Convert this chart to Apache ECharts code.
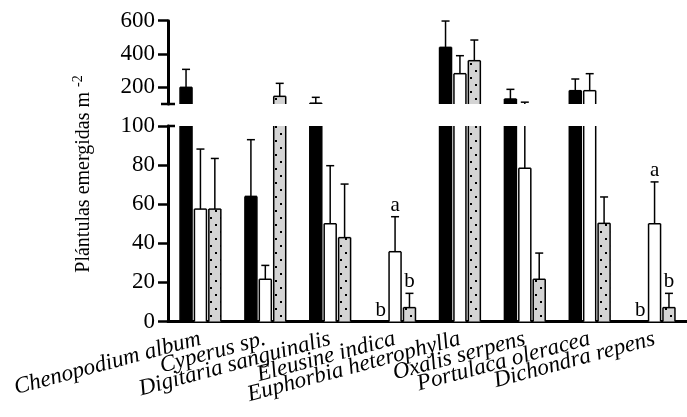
<!DOCTYPE html>
<html>
<head>
<meta charset="utf-8">
<script src="https://cdn.jsdelivr.net/npm/echarts@6/dist/echarts.min.js"></script>
<style>
html,body{margin:0;padding:0;background:#fff}
#chart{width:687px;height:417px}
</style>
</head>
<body>
<div id="chart"></div>
<script>
// species on the x axis
const species = ['Chenopodium album', 'Cyperus sp.', 'Digitaria sanguinalis', 'Eleusine indica',
  'Euphorbia heterophylla', 'Oxalis serpens', 'Portulaca oleracea', 'Dichondra repens'];
// means and upper error (SD) per treatment
const meanBlack = [200, 64, 105, 0, 440, 130, 180, 0];
const errBlack  = [108, 29, 35, 0, 158, 58, 70, 0];
const meanWhite = [57.5, 21.6, 50, 35.7, 282, 78.4, 180, 50];
const errWhite  = [30.7, 7.1, 29.7, 17.9, 108, 32.6, 102, 21.4];
const meanDot   = [57.5, 146, 42.9, 7.1, 360, 21.6, 50.2, 7.1];
const errDot    = [25.9, 78, 27.4, 7.3, 124, 13.4, 13.5, 7.3];
// letters
const sigBlack = ['', '', '', 'b', '', '', '', 'b'];
const sigWhite = ['', '', '', 'a', '', '', '', 'a'];
const sigDot   = ['', '', '', 'b', '', '', '', 'b'];
// axis ticks
const lowTicks = [0, 20, 40, 60, 80, 100];
const highTicks = [200, 400, 600];

const serif = 'Liberation Serif';
const AX_LEFT = 168;
const BAR_W = 12;

let chart = echarts.init(document.getElementById('chart'));

const groups = [
  {mean: meanBlack, err: errBlack, sig: sigBlack, off: -14.4,
    style: {color: '#000', borderWidth: 0, decal: {color: 'rgba(0,0,0,0)'}}},
  {mean: meanWhite, err: errWhite, sig: sigWhite, off: 0,
    style: {color: '#fff', borderWidth: 0, decal: {color: 'rgba(0,0,0,0)'}}},
  {mean: meanDot, err: errDot, sig: sigDot, off: 14.4,
    style: {color: '#d4d4d4', borderWidth: 0,
      decal: {symbol: 'rect', symbolSize: 1, color: '#000', rotation: 0,
        dashArrayX: [[1.5, 7.5], [0, 4.5, 1.5, 3]], dashArrayY: [1.5, 4.5]}}}
];

// outline (open where the axis is broken), error bar and letters
function errRenderer(g) {
  return function (params, api) {
    const i = api.value(0), v = api.value(1), e = api.value(2);
    const cs = params.coordSys;
    const top = cs.y, bot = cs.y + cs.height;
    const pb = api.coord([i, 0]);
    const p0 = api.coord([i, v]);
    const y1 = api.coord([i, v + e])[1];
    const x = p0[0] + g.off;
    const ln = {stroke: '#000', lineWidth: 1.5};
    const kids = [];
    if (v > 0) {
      const a = Math.min(pb[1], bot), b = Math.max(p0[1], top);
      if (a > b) {
        kids.push({type: 'line', shape: {x1: x - BAR_W / 2, y1: a, x2: x - BAR_W / 2, y2: b}, style: ln});
        kids.push({type: 'line', shape: {x1: x + BAR_W / 2, y1: a, x2: x + BAR_W / 2, y2: b}, style: ln});
        if (p0[1] >= top) {
          kids.push({type: 'line', shape: {x1: x - BAR_W / 2, y1: p0[1], x2: x + BAR_W / 2, y2: p0[1]}, style: ln});
        }
      }
    }
    if (e > 0) {
      const a = Math.min(p0[1], bot), b = Math.max(y1, top);
      if (a > b) {
        kids.push({type: 'line', shape: {x1: x, y1: a, x2: x, y2: b}, style: ln});
      }
      if (y1 >= top && y1 <= bot) {
        kids.push({type: 'line', shape: {x1: x - 4, y1: y1, x2: x + 4, y2: y1}, style: ln});
      }
    }
    const s = g.sig[params.dataIndex];
    if (s && y1 >= top && y1 <= bot + 1) {
      kids.push({type: 'text', x: x, y: y1 - 1,
        style: {text: s, fill: '#000', font: '21px ' + serif, align: 'center', verticalAlign: 'bottom'}});
    }
    return {type: 'group', children: kids};
  };
}

let series = [];
[0, 1].forEach(function (gi) {
  groups.forEach(function (g) {
    series.push({
      type: 'bar', xAxisIndex: gi, yAxisIndex: gi,
      barWidth: BAR_W, barGap: '20%',
      itemStyle: g.style,
      data: g.mean,
      silent: true
    });
  });
  groups.forEach(function (g) {
    series.push({
      type: 'custom', xAxisIndex: gi, yAxisIndex: gi,
      renderItem: errRenderer(g),
      data: g.mean.map(function (v, i) { return [i, v, g.err[i]]; }),
      z: 5, silent: true
    });
  });
});

const yLabel = {color: '#000', fontFamily: serif, fontSize: 23, margin: 13};
const yLine = {show: true, lineStyle: {color: '#000', width: 3}};
const yTick = {show: true, length: 10, lineStyle: {color: '#000', width: 2.5}};

let option = {
  animation: false,
  aria: {enabled: true, decal: {show: true}},
  grid: [
    {left: AX_LEFT, right: 0, top: 126, height: 195.5},
    {left: AX_LEFT, right: 0, top: 20.7, height: 83.3}
  ],
  xAxis: [
    {type: 'category', gridIndex: 0, data: species,
      axisLine: {lineStyle: {color: '#000', width: 3}},
      axisTick: {alignWithLabel: true, length: 8, lineStyle: {color: '#000', width: 2.5}},
      axisLabel: {interval: 0, rotate: 15, color: '#000', fontFamily: serif, fontStyle: 'italic',
        fontSize: 23, margin: 17}},
    {type: 'category', gridIndex: 1, data: species, show: false}
  ],
  yAxis: [
    {type: 'value', gridIndex: 0, min: 0, max: 100, interval: 20,
      axisLine: yLine, axisTick: yTick, axisLabel: yLabel, splitLine: {show: false}},
    {type: 'value', gridIndex: 1, min: 100, max: 600,
      axisLine: yLine,
      axisTick: Object.assign({customValues: highTicks}, yTick),
      axisLabel: Object.assign({customValues: highTicks}, yLabel),
      splitLine: {show: false}}
  ],
  series: series
};
chart.setOption(option);

// axis break caps and y title
const yLowTop = chart.convertToPixel({yAxisIndex: 0}, lowTicks[lowTicks.length - 1]);
const yHighBot = chart.convertToPixel({yAxisIndex: 1}, 100);
chart.setOption({
  graphic: [
    {type: 'line', shape: {x1: AX_LEFT - 1, y1: yLowTop, x2: AX_LEFT + 7, y2: yLowTop},
      style: {stroke: '#000', lineWidth: 2.5}},
    {type: 'line', shape: {x1: AX_LEFT - 7, y1: yHighBot, x2: AX_LEFT + 7, y2: yHighBot},
      style: {stroke: '#000', lineWidth: 2.5}},
    {type: 'text', x: 84, y: 174, rotation: Math.PI / 2,
      style: {text: 'Plántulas emergidas m {sup|-2}', fill: '#000', font: '20px ' + serif,
        align: 'center', verticalAlign: 'middle',
        rich: {sup: {fontSize: 14, fontFamily: serif, verticalAlign: 'top', padding: [0, 0, 12, 0]}}}}
  ]
});
</script>
</body>
</html>
